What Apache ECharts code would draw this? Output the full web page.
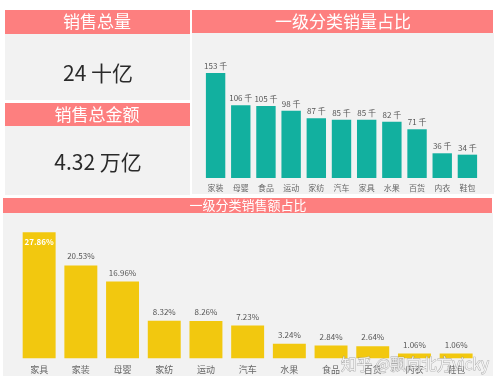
<!DOCTYPE html>
<html><head><meta charset="utf-8">
<script src="https://cdn.jsdelivr.net/npm/echarts@6/dist/echarts.min.js"></script>
<style>html,body{margin:0;padding:0;background:#fff}#c{width:499px;height:385px}</style>
</head><body><div id="c"></div>
<script>
const topCategories = ['家装','母婴','食品','运动','家纺','汽车','家具','水果','百货','内衣','鞋包'];
const topValues = [153,106,105,98,87,85,85,82,71,36,34];
const bottomCategories = ['家具','家装','母婴','家纺','运动','汽车','水果','食品','百货','内衣','鞋包'];
const bottomValues = [27.86,20.53,16.96,8.32,8.26,7.23,3.24,2.84,2.64,1.06,1.06];
const kpiTitles = ['销售总量','销售总金额'];
const kpiValues = ['24 十亿','4.32 万亿'];
const chartTitles = ['一级分类销量占比','一级分类销售额占比'];

const F = '"Noto Sans CJK SC", sans-serif';
const HEAD = '#fd7f7f', PANEL = '#f2f2f2';
const chart = echarts.init(document.getElementById('c'));
function rect(x,y,w,h,fill,z){return {type:'rect',shape:{x,y,width:w,height:h},style:{fill},z:z||0,silent:true};}
function txt(x,y,t,size,fill,z){return {type:'text',x,y,style:{text:t,fontSize:size,fill,fontFamily:F,align:'center',verticalAlign:'middle'},z:z||1,silent:true};}
chart.setOption({
  animation:false,
  graphic:[
    rect(5,34,185,66,PANEL), rect(5,10,185,24,HEAD),
    rect(5,126,185,69,PANEL), rect(5,103,185,23,HEAD),
    rect(192,33,302,161,PANEL), rect(192,10,301,23,HEAD),
    rect(3,213,490,163,PANEL), rect(3,198,489,15,HEAD),
    txt(97,22,kpiTitles[0],17,'#fff'),
    txt(98,73,kpiValues[0],21,'#2a2a2a'),
    txt(97,115,kpiTitles[1],17,'#fff'),
    txt(98,162,kpiValues[1],21,'#2a2a2a'),
    txt(343,22,chartTitles[0],17,'#fff'),
    txt(248,205,chartTitles[1],13,'#fff'),
    {type:'text',x:415,y:364,z:10,silent:true,style:{text:'知乎 @飘向北方vicky',fontSize:15.5,fontFamily:F,align:'center',verticalAlign:'middle',fill:'rgba(255,255,255,0.75)',stroke:'rgba(120,120,120,0.6)',lineWidth:0.8}}
  ],
  grid:[
    {left:203,width:277,top:73,bottom:207},
    {left:18.3,width:458.7,top:232.3,bottom:26.7}
  ],
  xAxis:[
    {type:'category',gridIndex:0,data:topCategories,axisLine:{show:false},axisTick:{show:false},
     axisLabel:{fontSize:8,color:'#666',fontFamily:F,margin:6,interval:0}},
    {type:'category',gridIndex:1,data:bottomCategories,axisLine:{show:false},axisTick:{show:false},
     axisLabel:{fontSize:9,color:'#666',fontFamily:F,margin:7,interval:0}}
  ],
  yAxis:[
    {type:'value',gridIndex:0,min:0,max:153,show:false,splitLine:{show:false}},
    {type:'value',gridIndex:1,min:0,max:27.86,show:false,splitLine:{show:false}}
  ],
  series:[
    {type:'bar',xAxisIndex:0,yAxisIndex:0,data:topValues,barCategoryGap:'23%',
     itemStyle:{color:'#12b09f'},
     label:{show:true,position:'top',distance:3,fontSize:8,color:'#555',fontFamily:F,formatter:p=>p.value+' 千'}},
    {type:'bar',xAxisIndex:1,yAxisIndex:1,barCategoryGap:'21%',
     itemStyle:{color:'#f2c80f'},
     data:bottomValues.map((v,i)=>i===0?{value:v,label:{position:'insideTop',color:'#fff',fontWeight:'bold',distance:6}}:v),
     label:{show:true,position:'top',distance:5,fontSize:8,color:'#555',fontFamily:F,formatter:p=>p.value.toFixed(2)+'%'}}
  ]
});
</script></body></html>
